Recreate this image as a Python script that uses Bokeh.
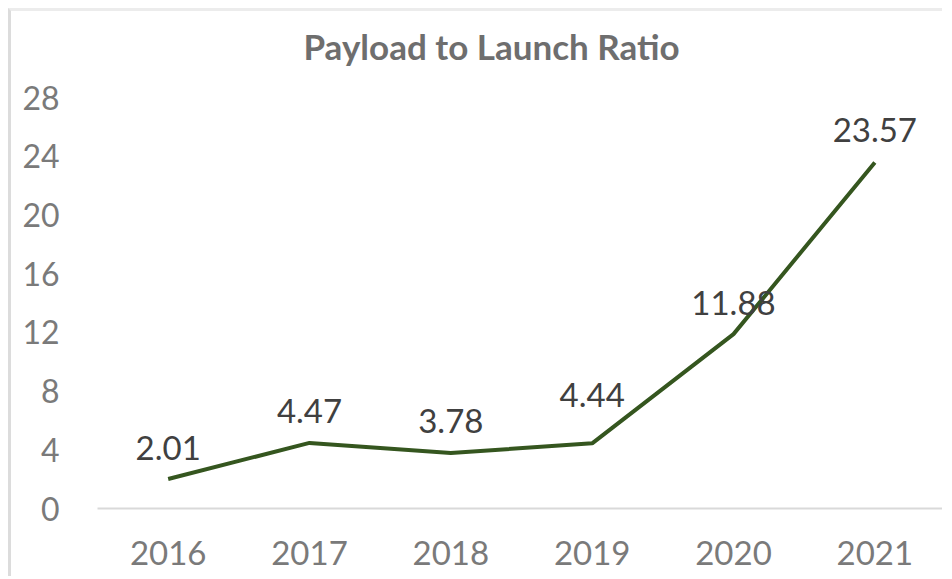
from bokeh.plotting import figure
from bokeh.models import ColumnDataSource, FixedTicker, Range1d, Label
from bokeh.core.properties import value
from bokeh.embed import file_html
from bokeh.resources import INLINE

title_text = "Payload to Launch Ratio"
years = ["2016", "2017", "2018", "2019", "2020", "2021"]
ratios = [2.01, 4.47, 3.78, 4.44, 11.88, 23.57]
labels = ["2.01", "4.47", "3.78", "4.44", "11.88", "23.57"]
y_ticks = [0, 4, 8, 12, 16, 20, 24, 28]

# label placement (pixels above each point), styling only
label_offsets = [-31, -32, -32, -48, -31, -33]

src = ColumnDataSource(dict(x=years, y=ratios, t=labels, off=label_offsets))

FONT = "Lato"

# frame extends to the top of the canvas; extra headroom above 28 holds the title
p = figure(width=934, height=568, x_range=years, y_range=Range1d(0, 33.86),
           output_backend="svg", toolbar_location=None,
           min_border_left=86, min_border_right=0, min_border_bottom=71,
           min_border_top=0)
p.styles = {"margin-left": "8px", "margin-top": "8px",
            "border-top": "3px solid #ececec", "border-left": "3px solid #dcdcdc"}

title = Label(x=206, y=463, x_units="screen", y_units="screen",
              text=title_text, text_font=FONT, text_font_style="bold",
              text_font_size="35px", text_color="#6e6e6e",
              text_align="left", text_baseline="middle")
p.add_layout(title)

p.outline_line_color = None
p.xgrid.grid_line_color = None
p.ygrid.grid_line_color = None
p.background_fill_color = "white"
p.border_fill_color = "white"

p.line("x", "y", source=src, line_color="#35561f", line_width=4)
p.text("x", "y", text="t", source=src, y_offset="off",
       text_font=value(FONT), text_font_size="33px", text_color="#404040",
       text_align="center", text_baseline="middle")

p.yaxis.ticker = FixedTicker(ticks=y_ticks)
p.yaxis.axis_line_color = None
p.yaxis.major_tick_line_color = None
p.yaxis.minor_tick_line_color = None
p.yaxis.major_label_text_font = FONT
p.yaxis.major_label_text_font_size = "32px"
p.yaxis.major_label_text_color = "#7a7a7a"
p.yaxis.major_label_standoff = 32

p.xaxis.axis_line_color = "#d9d9d9"
p.xaxis.axis_line_width = 2
p.xaxis.major_tick_line_color = None
p.xaxis.minor_tick_line_color = None
p.xaxis.major_label_text_font = FONT
p.xaxis.major_label_text_font_size = "33px"
p.xaxis.major_label_text_color = "#7a7a7a"
p.xaxis.major_label_standoff = 26

open("out.html", "w").write(file_html(p, INLINE))
